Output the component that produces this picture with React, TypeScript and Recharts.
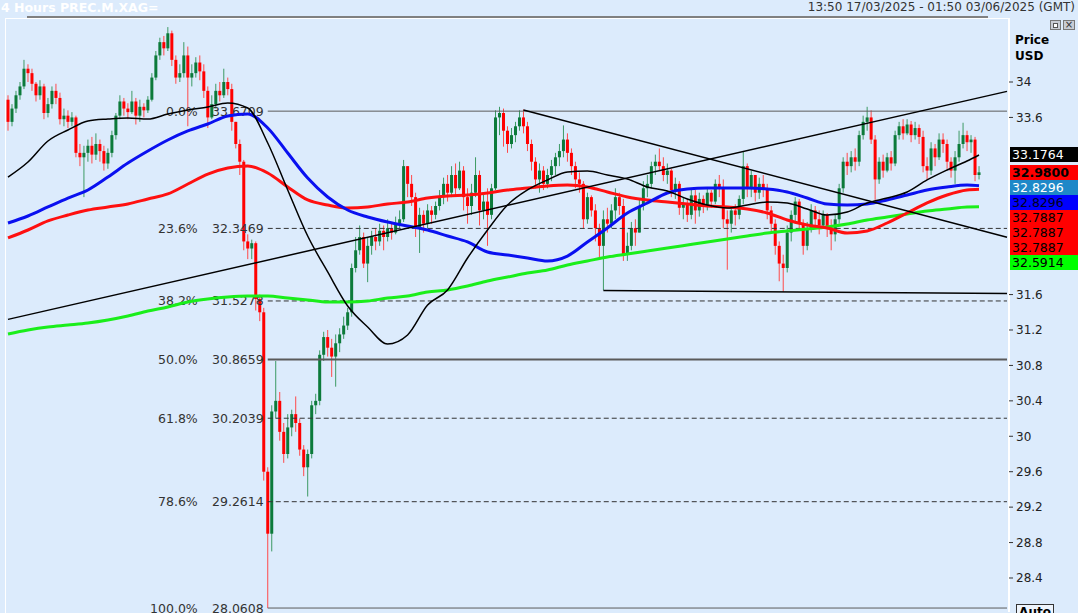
import React from 'react'
import { ComposedChart, Bar, Line, XAxis, YAxis, ReferenceLine } from 'recharts'

// price scale of the plot (right axis)
const TOP_PRICE = 34.7226
const BOTTOM_PRICE = 28.016
const PLOT_TOP = 18
const PLOT_H = 594
// 32 to 33.2 sit under the price tags
const priceTicks = [28.4, 28.8, 29.2, 29.6, 30, 30.4, 30.8, 31.2, 31.6, 33.6, 34]

// 4h candles, open = previous close
const firstOpen = 33.8
const closes = [
  33.55, 33.7, 33.85, 33.95, 34.15, 34.1, 33.98, 33.85, 33.95, 33.65, 33.75, 33.9, 33.82, 33.58, 33.62, 33.55, 33.6, 33.2, 33.15, 33.2,
  33.28, 33.18, 33.3, 33.22, 33.08, 33.2, 33.4, 33.62, 33.78, 33.7, 33.66, 33.78, 33.62, 33.72, 33.68, 33.8, 34.05, 34.3, 34.45, 34.38,
  34.55, 34.25, 34.05, 34.1, 34.3, 34.05, 34.1, 34.22, 34.12, 33.9, 33.6, 33.75, 33.9, 33.85, 34.0, 33.92, 33.55, 33.3, 33.1, 32.2,
  32.12, 32.18, 31.55, 31.4, 29.6, 28.9, 30.28, 30.4, 30.05, 29.8, 30.1, 30.25, 30.15, 29.85, 29.65, 29.8, 30.35, 30.4, 30.92, 31.12,
  31.0, 30.9, 31.05, 31.15, 31.25, 31.4, 31.9, 32.1, 32.25, 31.95, 32.15, 32.25, 32.2, 32.32, 32.25, 32.35, 32.3, 32.4, 32.45, 33.05,
  32.85, 32.7, 32.35, 32.5, 32.4, 32.55, 32.5, 32.6, 32.7, 32.85, 32.75, 32.95, 32.8, 33.0, 32.7, 32.6, 32.75, 32.95, 32.55, 32.65,
  32.5, 32.8, 33.6, 33.65, 33.45, 33.3, 33.4, 33.5, 33.6, 33.5, 33.3, 33.1, 32.9, 33.0, 32.85, 32.95, 33.05, 33.15, 33.22, 33.35,
  33.2, 33.05, 32.9, 32.85, 32.45, 32.7, 32.55, 32.35, 32.15, 32.45, 32.4, 32.55, 32.7, 32.6, 32.05, 32.15, 32.35, 32.3, 32.6, 32.8,
  32.85, 33.05, 33.1, 33.05, 32.95, 33.0, 32.78, 32.85, 32.58, 32.62, 32.5, 32.72, 32.55, 32.68, 32.6, 32.75, 32.65, 32.85, 32.8, 32.45,
  32.4, 32.55, 32.5, 32.68, 33.05, 32.8, 32.95, 32.75, 32.85, 32.8, 32.55, 32.4, 32.15, 31.95, 31.9, 32.3, 32.5, 32.65, 32.4, 32.15,
  32.35, 32.55, 32.45, 32.38, 32.5, 32.35, 32.28, 32.45, 32.8, 33.1, 33.05, 33.15, 33.1, 33.4, 33.55, 33.6, 33.35, 32.9, 33.1, 33.0,
  33.15, 33.08, 33.4, 33.5, 33.42, 33.52, 33.4, 33.48, 33.38, 33.05, 33.0, 33.25, 33.15, 33.35, 33.3, 33.1, 33.0, 33.15, 33.3, 33.4,
  33.32, 33.35, 32.95, 32.98,
]
const highs = [
  33.85, 33.75, 33.9, 34.0, 34.25, 34.2, 34.15, 34.0, 34.02, 33.98, 33.82, 33.95, 33.98, 33.88, 33.7, 33.68, 33.66, 33.62, 33.3, 33.28,
  33.35, 33.38, 33.42, 33.35, 33.28, 33.25, 33.45, 33.65, 33.85, 33.82, 33.76, 33.9, 33.82, 33.8, 33.76, 33.84, 34.1, 34.35, 34.5, 34.52,
  34.62, 34.58, 34.3, 34.2, 34.45, 34.4, 34.2, 34.28, 34.3, 34.2, 33.95, 33.85, 33.98, 34.0, 34.15, 34.05, 33.98, 33.55, 33.35, 33.12,
  32.28, 32.22, 32.2, 31.6, 31.45, 29.65, 30.35, 30.85, 30.5, 30.15, 30.25, 30.3, 30.45, 30.2, 29.9, 29.85, 30.4, 30.48, 30.97, 31.18,
  31.2, 31.1, 31.15, 31.22, 31.35, 31.45, 31.95, 32.25, 32.38, 32.3, 32.25, 32.32, 32.35, 32.4, 32.38, 32.45, 32.42, 32.48, 32.55, 33.12,
  33.05, 32.95, 32.75, 32.58, 32.55, 32.62, 32.6, 32.65, 32.78, 32.92, 32.95, 33.05, 33.08, 33.1, 33.05, 32.8, 32.85, 33.15, 33.0, 32.75,
  32.8, 32.85, 33.68, 33.72, 33.7, 33.5, 33.48, 33.55, 33.68, 33.69, 33.55, 33.35, 33.15, 33.08, 33.05, 33.02, 33.12, 33.2, 33.3, 33.51,
  33.42, 33.25, 33.1, 32.98, 32.88, 32.75, 32.72, 32.62, 32.4, 32.55, 32.58, 32.62, 32.8, 32.75, 32.68, 32.3, 32.42, 32.45, 32.68, 32.88,
  32.95, 33.1, 33.18, 33.25, 33.15, 33.08, 33.02, 32.92, 32.88, 32.7, 32.68, 32.8, 32.78, 32.75, 32.72, 32.8, 32.78, 32.9, 32.95, 32.9,
  32.55, 32.6, 32.62, 32.72, 33.21, 33.08, 33.0, 32.95, 32.92, 32.95, 32.85, 32.6, 32.45, 32.2, 32.05, 32.38, 32.55, 32.7, 32.68, 32.45,
  32.42, 32.62, 32.6, 32.55, 32.55, 32.52, 32.45, 32.5, 32.85, 33.15, 33.2, 33.22, 33.25, 33.45, 33.62, 33.72, 33.68, 33.4, 33.15, 33.18,
  33.2, 33.22, 33.45, 33.55, 33.58, 33.58, 33.56, 33.55, 33.52, 33.45, 33.15, 33.32, 33.3, 33.42, 33.42, 33.35, 33.15, 33.22, 33.45, 33.54,
  33.45, 33.4, 33.38, 33.05,
]
const lows = [
  33.45, 33.5, 33.65, 33.8, 33.92, 34.0, 33.9, 33.78, 33.8, 33.58, 33.6, 33.7, 33.75, 33.52, 33.5, 33.48, 33.5, 33.15, 33.05, 32.7,
  33.1, 33.08, 33.12, 33.1, 33.0, 33.02, 33.15, 33.35, 33.58, 33.62, 33.58, 33.64, 33.52, 33.55, 33.6, 33.65, 33.78, 34.02, 34.25, 34.3,
  34.35, 34.18, 33.98, 34.0, 34.05, 33.5, 33.95, 34.05, 34.02, 33.82, 33.48, 33.58, 33.7, 33.78, 33.82, 33.85, 33.45, 33.25, 32.95, 32.1,
  32.0, 32.0, 31.42, 31.3, 29.5, 28.06, 28.7, 30.2, 29.95, 29.7, 29.75, 30.0, 30.05, 29.78, 29.55, 29.32, 29.75, 30.25, 30.35, 30.85,
  30.9, 30.67, 30.56, 30.95, 31.1, 31.2, 31.35, 31.85, 32.05, 31.9, 31.74, 32.05, 32.1, 32.15, 32.1, 32.2, 32.22, 32.28, 32.35, 32.42,
  32.7, 32.6, 32.25, 32.07, 32.3, 32.35, 32.4, 32.45, 32.55, 32.62, 32.65, 32.7, 32.72, 32.78, 32.55, 32.4, 32.5, 32.7, 32.38, 32.45,
  32.15, 32.45, 32.78, 33.4, 33.27, 33.2, 33.25, 33.32, 33.45, 33.42, 33.22, 33.0, 32.8, 32.75, 32.78, 32.8, 32.88, 32.95, 33.05, 33.15,
  33.1, 32.95, 32.8, 32.75, 32.35, 32.4, 32.48, 32.2, 32.0, 31.65, 32.3, 32.35, 32.45, 32.5, 31.98, 31.98, 32.1, 32.15, 32.3, 32.55,
  32.7, 32.8, 32.95, 33.0, 32.88, 32.85, 32.7, 32.68, 32.5, 32.45, 32.42, 32.45, 32.4, 32.48, 32.52, 32.55, 32.58, 32.62, 32.7, 32.35,
  31.88, 32.3, 32.38, 32.45, 32.62, 32.7, 32.7, 32.65, 32.68, 32.7, 32.45, 32.3, 32.05, 31.75, 31.63, 31.85, 32.2, 32.4, 32.32, 32.05,
  32.1, 32.3, 32.35, 32.28, 32.35, 32.25, 32.1, 32.2, 32.4, 32.75, 32.95, 32.98, 33.0, 33.05, 33.35, 33.45, 33.3, 32.67, 32.85, 32.92,
  32.98, 33.0, 33.05, 33.35, 33.35, 33.4, 33.32, 33.35, 33.3, 32.98, 32.9, 32.95, 33.05, 33.12, 33.2, 33.02, 32.92, 32.85, 33.1, 33.25,
  33.22, 33.2, 32.88, 32.9,
]
const SLOTS = 251

// moving averages
const maIndex = [
  0, 5, 10, 15, 20, 25, 30, 35, 40, 45, 50, 55, 60, 65, 70, 75, 80, 85, 90, 95, 100, 105, 110, 115, 120,
  125, 130, 135, 140, 145, 150, 155, 160, 165, 170, 175, 180, 185, 190, 195, 200, 205, 210, 215, 220, 225, 230, 235, 240, 243,
]
const maBlack = [
  32.927, 33.097, 33.334, 33.458, 33.56, 33.582, 33.594, 33.582, 33.639, 33.684, 33.718, 33.763, 33.706, 33.311, 32.781, 32.261, 31.855,
  31.471, 31.234, 31.042, 31.144, 31.482, 31.652, 32.013, 32.329, 32.611, 32.781, 32.894, 32.984, 32.995, 32.95, 32.905, 32.815, 32.769,
  32.679, 32.611, 32.577, 32.611, 32.645, 32.634, 32.566, 32.498, 32.532, 32.634, 32.69, 32.758, 32.894, 33.006, 33.108, 33.176,
]
const maBlue = [
  32.408, 32.487, 32.589, 32.69, 32.781, 32.927, 33.085, 33.221, 33.345, 33.447, 33.526, 33.616, 33.639, 33.481, 33.198, 32.916, 32.702,
  32.555, 32.476, 32.419, 32.374, 32.329, 32.261, 32.194, 32.081, 32.047, 32.013, 31.979, 32.035, 32.194, 32.352, 32.521, 32.634, 32.747,
  32.792, 32.803, 32.803, 32.803, 32.792, 32.758, 32.69, 32.622, 32.611, 32.622, 32.668, 32.724, 32.781, 32.815, 32.837, 32.83,
]
const maRed = [
  32.239, 32.329, 32.431, 32.498, 32.555, 32.589, 32.623, 32.679, 32.736, 32.848, 32.961, 33.029, 33.052, 32.973, 32.815, 32.668, 32.611,
  32.577, 32.589, 32.623, 32.645, 32.69, 32.713, 32.724, 32.747, 32.781, 32.803, 32.826, 32.837, 32.815, 32.758, 32.702, 32.668, 32.645,
  32.623, 32.6, 32.589, 32.566, 32.521, 32.442, 32.385, 32.352, 32.295, 32.318, 32.408, 32.521, 32.634, 32.724, 32.781, 32.789,
]
const maGreen = [
  31.155, 31.2, 31.234, 31.256, 31.279, 31.313, 31.358, 31.414, 31.46, 31.516, 31.55, 31.573, 31.584, 31.584, 31.561, 31.539, 31.516,
  31.516, 31.527, 31.561, 31.584, 31.629, 31.652, 31.697, 31.753, 31.798, 31.843, 31.877, 31.934, 31.979, 32.024, 32.058, 32.092, 32.126,
  32.16, 32.194, 32.227, 32.261, 32.295, 32.318, 32.34, 32.363, 32.397, 32.442, 32.476, 32.51, 32.544, 32.566, 32.589, 32.591,
]

// drawn trend lines: [bar index, price]
const trendLines = [
  [[0, 31.32], [250, 33.894]],
  [[129, 33.684], [250, 32.247]],
  [[149, 31.646], [250, 31.612]],
]

// fibonacci retracement from the 28.0608 low (bar 65)
const fibStart = 65
const fibPct = ['0.0%', '23.6%', '38.2%', '50.0%', '61.8%', '78.6%', '100.0%']
const fibValue = [33.6709, 32.3469, 31.5278, 30.8659, 30.2039, 29.2614, 28.0608]
const fibDashed = [false, true, true, false, true, true, false]

// price tags stacked on the axis
const tagValue = [33.1764, 32.98, 32.8296, 32.8296, 32.7887, 32.7887, 32.7887, 32.5914]
const tagBg = ['#000000', '#ff0000', '#1e88c8', '#0000ff', '#ff0000', '#ff0000', '#ff0000', '#00ff00']
const tagFg = ['#ffffff', '#000000', '#ffffff', '#000022', '#000000', '#000000', '#000000', '#000000']

const BG = '#dcebfc'
const FONT = '"DejaVu Sans", Verdana, sans-serif'

const rows = Array.from({ length: SLOTS }, (_, i) => {
  const row: any = { i }
  if (i < closes.length) {
    row.open = i === 0 ? firstOpen : closes[i - 1]
    row.close = closes[i]
    row.range = [lows[i], highs[i]]
  }
  return row
})
maIndex.forEach((idx, k) => {
  rows[idx].ma1 = maBlack[k]
  rows[idx].ma2 = maBlue[k]
  rows[idx].ma3 = maRed[k]
  rows[idx].ma4 = maGreen[k]
})

function Candle(props: any) {
  const { x, y, width, height, payload } = props
  if (!payload || !payload.range) return null
  const [low, high] = payload.range
  const top = Math.min(y, y + height)
  const h = Math.abs(height)
  const k = high > low ? h / (high - low) : 0
  const py = (v: number) => top + (high - v) * k
  const cx = x + width / 2
  const up = payload.close >= payload.open
  const body = up ? '#0c7a3a' : '#ff0000'
  const wick = up ? '#3d9a64' : '#ff4a4a'
  const b1 = py(Math.max(payload.open, payload.close))
  const b2 = py(Math.min(payload.open, payload.close))
  return (
    <g>
      <line x1={cx} x2={cx} y1={top} y2={top + h} stroke={wick} strokeWidth={1} />
      <rect x={cx - 1.5} y={b1} width={3} height={Math.max(1, b2 - b1)} fill={body} />
    </g>
  )
}

const fibLabel = (pct: string, value: number) => (props: any) => {
  const vb = props.viewBox || {}
  const style = { fontFamily: FONT, fontSize: 12.5, fill: '#333' }
  return (
    <g>
      <text x={vb.x - 70} y={vb.y} textAnchor="end" dominantBaseline="central" {...style}>{pct}</text>
      <text x={vb.x - 4} y={vb.y} textAnchor="end" dominantBaseline="central" {...style}>{value.toFixed(4)}</text>
    </g>
  )
}

const yOf = (v: number) => PLOT_TOP + ((TOP_PRICE - v) / (TOP_PRICE - BOTTOM_PRICE)) * PLOT_H

function PriceTags() {
  let prev = -100
  return (
    <>
      {tagValue.map((v, k) => {
        const top = Math.max(yOf(v) - 7.5, prev + 15)
        prev = top
        return (
          <div
            key={k}
            style={{
              position: 'absolute', left: 1010, top, width: 68, height: 15, background: tagBg[k], color: tagFg[k],
              fontFamily: FONT, fontSize: 12.5, lineHeight: '15px', paddingLeft: 2, boxSizing: 'border-box',
              fontWeight: k === 1 ? 'bold' : 'normal',
            }}
          >
            {v.toFixed(4)}
          </div>
        )
      })}
    </>
  )
}

export default function App() {
  return (
    <div style={{ position: 'absolute', left: 0, top: 0, width: 1078, height: 613, background: BG, overflow: 'hidden' }}>
      <div style={{ position: 'absolute', left: 1, top: 0, fontFamily: FONT, fontSize: 12.5, fontWeight: 'bold', color: '#fff' }}>
        4 Hours PREC.M.XAG=
      </div>
      <div style={{ position: 'absolute', right: 3, top: 0, fontFamily: FONT, fontSize: 12, color: '#333' }}>
        13:50 17/03/2025 - 01:50 03/06/2025 (GMT)
      </div>
      <div style={{ position: 'absolute', left: 5, top: 18, width: 1005, height: 1, background: '#fff' }} />
      <div style={{ position: 'absolute', left: 27, top: 16, width: 961, height: 2, background: '#808080' }} />
      <div style={{ position: 'absolute', left: 5, top: 18, width: 1, height: 595, background: '#fff' }} />

      <ComposedChart
        width={1078}
        height={613}
        data={rows}
        margin={{ top: PLOT_TOP, right: 0, bottom: 1, left: 6 }}
        barCategoryGap={0}
        barGap={0}
        style={{ position: 'absolute', left: 0, top: 0 }}
      >
        <XAxis dataKey="i" hide />
        <YAxis
          orientation="right"
          type="number"
          domain={[BOTTOM_PRICE, TOP_PRICE]}
          allowDataOverflow
          ticks={priceTicks}
          interval={0}
          width={69}
          tickSize={4}
          tickMargin={3}
          tickFormatter={(v: number) => String(v)}
          tick={{ fill: '#222', fontSize: 12, fontFamily: FONT }}
          tickLine={{ stroke: '#333' }}
          axisLine={{ stroke: '#ffffff', strokeWidth: 2 }}
        />
        {fibValue.map((v, k) => (
          <ReferenceLine
            key={'fib' + k}
            segment={[{ x: fibStart, y: v }, { x: SLOTS - 1, y: v }]}
            stroke={fibDashed[k] ? '#333' : '#5a5a5a'}
            strokeWidth={k === 3 ? 2 : 1}
            strokeDasharray={fibDashed[k] ? '5 3' : undefined}
            label={{ content: fibLabel(fibPct[k], v) } as any}
          />
        ))}
        <Bar dataKey="range" shape={(p: any) => <Candle {...p} />} isAnimationActive={false} />
        <Line dataKey="ma4" type="monotone" stroke="#1aee1a" strokeWidth={3} dot={false} connectNulls isAnimationActive={false} />
        <Line dataKey="ma3" type="monotone" stroke="#ff1010" strokeWidth={3} dot={false} connectNulls isAnimationActive={false} />
        <Line dataKey="ma2" type="monotone" stroke="#0a10f0" strokeWidth={3} dot={false} connectNulls isAnimationActive={false} />
        <Line dataKey="ma1" type="monotone" stroke="#000000" strokeWidth={1.5} dot={false} connectNulls isAnimationActive={false} />
        {trendLines.map((t, k) => (
          <ReferenceLine
            key={'tl' + k}
            segment={[{ x: t[0][0], y: t[0][1] }, { x: t[1][0], y: t[1][1] }]}
            stroke="#000"
            strokeWidth={1.5}
          />
        ))}
      </ComposedChart>

      <div style={{ position: 'absolute', left: 1015, top: 32, fontFamily: FONT, fontSize: 12, fontWeight: 'bold', color: '#000', lineHeight: '16px' }}>
        Price<br />USD
      </div>
      <div style={{ position: 'absolute', left: 1050, top: 20, width: 11, height: 10, background: '#c8ccd4', border: '1px solid #777', boxSizing: 'border-box' }}>
        <div style={{ margin: '2px 2px', height: 3, border: '1px solid #555', background: '#fff' }} />
      </div>
      <div style={{ position: 'absolute', left: 1063, top: 20, width: 12, height: 10, background: '#c8ccd4', border: '1px solid #777', boxSizing: 'border-box', fontSize: 10, lineHeight: '8px', textAlign: 'center', color: '#333', fontFamily: FONT }}>
        ×
      </div>
      <PriceTags />
      <div style={{ position: 'absolute', left: 1016, top: 604, width: 36, height: 16, border: '1px solid #333', background: '#eef4fc', fontFamily: FONT, fontSize: 12, fontWeight: 'bold', textAlign: 'center', lineHeight: '14px' }}>
        Auto
      </div>
    </div>
  )
}
